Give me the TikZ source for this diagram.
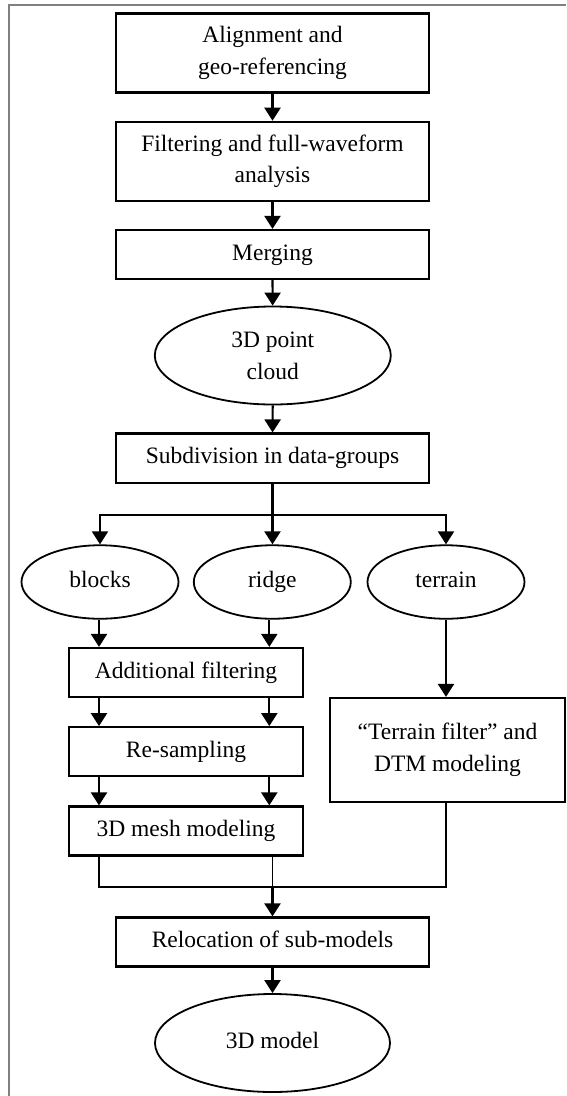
\documentclass[tikz,border=0pt]{standalone}
\usepackage{fontspec}
\setmainfont{Liberation Serif}
\usetikzlibrary{shapes.geometric,arrows.meta}
\begin{document}
\begin{tikzpicture}[x=1pt,y=-1pt,
  txt/.style={font=\fontsize{23.5}{31.7}\selectfont,align=center,inner sep=0pt},
  box/.style={txt,draw,line width=2.2pt,rectangle},
  oval/.style={txt,draw,line width=1.8pt,ellipse},
  word/.style={text height=16pt,text depth=5pt},
  ln/.style={line width=2.2pt},
  thinln/.style={line width=1.4pt},
  arr/.style={line width=2.2pt,-{Triangle[length=13pt,width=16pt]}}
]
\useasboundingbox (0,0) rectangle (566,1096);
\draw[gray,line width=1.5pt] (9,1096) -- (9,5) -- (566,5);

\node[box,minimum width=313pt,minimum height=79pt] (align) at (272.5,53) {Alignment and\\geo-referencing};
\node[box,minimum width=313pt,minimum height=79pt] (filt) at (272.5,161.3) {Filtering and full-waveform\\analysis};
\node[box,word,minimum width=313pt,minimum height=49pt] (merge) at (272.5,254.5) {Merging};
\node[oval,minimum width=236pt,minimum height=98pt] (pc) at (272.8,355.5) {3D point\\cloud};
\node[box,word,minimum width=313pt,minimum height=49.5pt] (sub) at (272.5,458.3) {Subdivision in data-groups};

\node[oval,word,minimum width=157pt,minimum height=73.5pt] (blocks) at (100,582) {blocks};
\node[oval,word,minimum width=157pt,minimum height=73.5pt] (ridge) at (272.3,582) {ridge};
\node[oval,word,minimum width=157pt,minimum height=73.5pt] (terrain) at (446,582) {terrain};

\node[box,word,minimum width=234pt,minimum height=49pt] (af) at (186,672.5) {Additional filtering};
\node[box,word,minimum width=234pt,minimum height=49pt] (rs) at (186,751.7) {Re-sampling};
\node[box,word,minimum width=234pt,minimum height=49pt] (mesh) at (186,831) {3D mesh modeling};
\node[box,minimum width=235pt,minimum height=104pt] (tbox) at (447.5,750) {“Terrain filter” and\\DTM modeling};

\node[box,word,minimum width=313pt,minimum height=49pt] (reloc) at (272.5,942) {Relocation of sub-models};
\node[oval,word,minimum width=235pt,minimum height=98pt] (model) at (272.5,1043) {3D model};

\coordinate (cl) at (99,0);
\coordinate (cr) at (269.3,0);
\coordinate (br) at (272.5,515);
\coordinate (j) at (272.5,887);

\draw[arr] (align) -- (filt);
\draw[arr] (filt) -- (merge);
\draw[arr] (merge) -- (pc);
\draw[arr] (pc) -- (sub);

\draw[ln] (sub.south) -- (br);
\draw[arr] (br) -| (blocks.north);
\draw[arr] (br) -- (br |- ridge.north);
\draw[arr] (br) -| (terrain.north);

\draw[arr] (cl |- blocks.south) -- (cl |- af.north);
\draw[arr] (cr |- ridge.south) -- (cr |- af.north);
\draw[arr] (cl |- af.south) -- (cl |- rs.north);
\draw[arr] (cr |- af.south) -- (cr |- rs.north);
\draw[arr] (cl |- rs.south) -- (cl |- mesh.north);
\draw[arr] (cr |- rs.south) -- (cr |- mesh.north);

\draw[arr] (terrain.south) -- (terrain.south |- tbox.north);

\draw[ln] (cl |- mesh.south) -- (cl |- j) -- (j);
\draw[thinln] (j |- mesh.south) -- (j);
\draw[thinln] (tbox.south -| terrain) -- (j -| terrain) -- (j);
\draw[arr] (j) -- (reloc.north);
\draw[arr] (reloc) -- (model);
\end{tikzpicture}
\end{document}
